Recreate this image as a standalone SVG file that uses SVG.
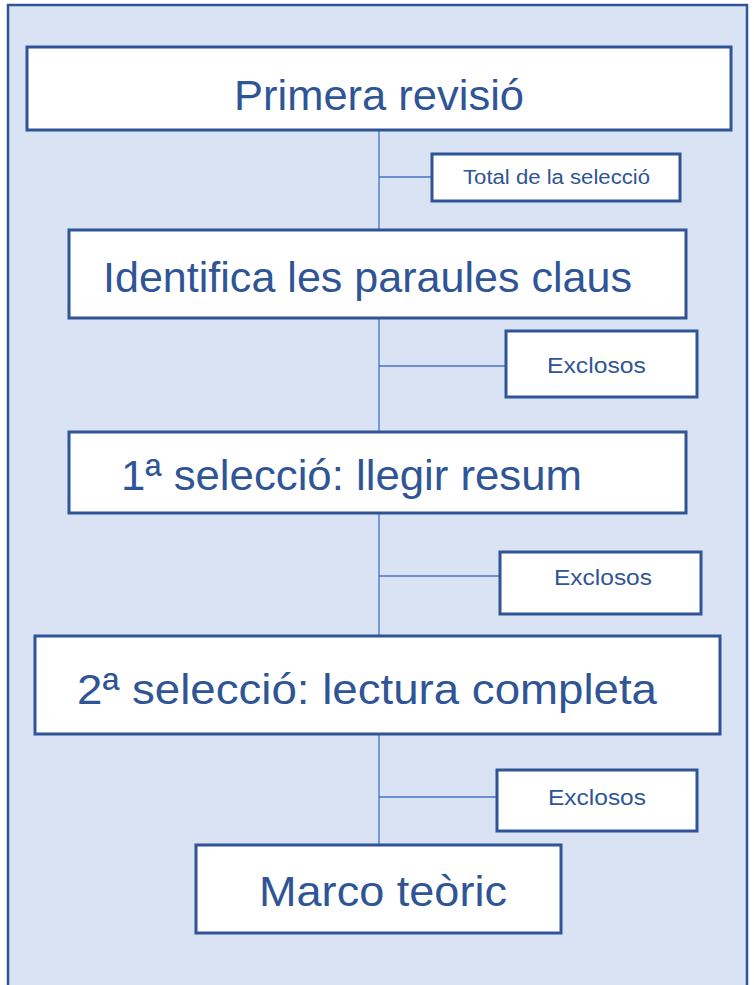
<svg xmlns="http://www.w3.org/2000/svg" width="754" height="985" viewBox="0 0 754 985">
<style>
.box{fill:#ffffff;stroke:#2F5597;stroke-width:3}
.t{font-family:"Liberation Sans",Arial,sans-serif;fill:#2F5597}
.big{font-size:43px}
.mid{font-size:22px}
.sm{font-size:20px}
.c{stroke:#4472C4;stroke-width:1.3;fill:none}
</style>
<rect x="8" y="5" width="739" height="990" fill="#DAE3F3" stroke="#2F5597" stroke-width="2.5"/>
<g id="connectors">
<line class="c" x1="379" y1="130" x2="379" y2="845"/>
<line class="c" x1="379" y1="177" x2="431" y2="177"/>
<line class="c" x1="379" y1="366" x2="506" y2="366"/>
<line class="c" x1="379" y1="576" x2="500" y2="576"/>
<line class="c" x1="379" y1="797" x2="497" y2="797"/>
</g>
<g id="n1"><rect class="box" x="27" y="47" width="704" height="83"/><text class="t big" x="234" y="110" textLength="290" lengthAdjust="spacingAndGlyphs">Primera revisió</text></g>
<g id="n2"><rect class="box" x="432" y="154" width="248" height="47"/><text class="t sm" x="463" y="184" textLength="187" lengthAdjust="spacingAndGlyphs">Total de la selecció</text></g>
<g id="n3"><rect class="box" x="69" y="230" width="617" height="88"/><text class="t big" x="103" y="292" textLength="529" lengthAdjust="spacingAndGlyphs">Identifica les paraules claus</text></g>
<g id="n4"><rect class="box" x="506" y="331" width="191" height="66"/><text class="t mid" x="547" y="373" textLength="99" lengthAdjust="spacingAndGlyphs">Exclosos</text></g>
<g id="n5"><rect class="box" x="69" y="432" width="617" height="81"/><text class="t big" x="121" y="490" textLength="461" lengthAdjust="spacingAndGlyphs">1ª selecció: llegir resum</text></g>
<g id="n6"><rect class="box" x="500" y="552" width="201" height="62"/><text class="t mid" x="554" y="585" textLength="98" lengthAdjust="spacingAndGlyphs">Exclosos</text></g>
<g id="n7"><rect class="box" x="35" y="636" width="685" height="98"/><text class="t big" x="77" y="704" textLength="580" lengthAdjust="spacingAndGlyphs">2ª selecció: lectura  completa</text></g>
<g id="n8"><rect class="box" x="497" y="770" width="200" height="61"/><text class="t mid" x="548" y="805" textLength="98" lengthAdjust="spacingAndGlyphs">Exclosos</text></g>
<g id="n9"><rect class="box" x="196" y="845" width="365" height="88"/><text class="t big" x="259" y="906" textLength="248" lengthAdjust="spacingAndGlyphs">Marco teòric</text></g>
</svg>
